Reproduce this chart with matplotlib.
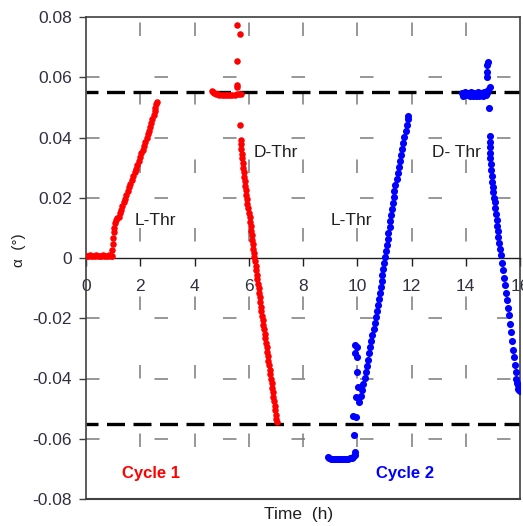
import matplotlib
matplotlib.use("Agg")
import matplotlib.pyplot as plt

plt.rcParams['font.family'] = ['Liberation Sans', 'DejaVu Sans']
plt.rcParams['lines.scale_dashes'] = False

# ---------------- data (time in h, alpha in degrees) ----------------
x_ticks = [0, 2, 4, 6, 8, 10, 12, 14, 16]
x_tick_labels = ['0', '2', '4', '6', '8', '10', '12', '14', '16']
y_ticks = [-0.08, -0.06, -0.04, -0.02, 0, 0.02, 0.04, 0.06, 0.08]
y_tick_labels = ['-0.08', '-0.06', '-0.04', '-0.02', '0', '0.02', '0.04', '0.06', '0.08']
grid_x = [2, 4, 6, 8, 10, 12, 14]
grid_y = [-0.06, -0.04, -0.02, 0.02, 0.04, 0.06]
thresholds = [0.055, -0.055]

# Cycle 1 (red)
red_flat = [(0.02, 0.0008), (0.08, 0.0005), (0.14, 0.0009), (0.20, 0.0006), (0.26, 0.0008),
            (0.32, 0.0005), (0.38, 0.0009), (0.44, 0.0006), (0.50, 0.0008), (0.56, 0.0005),
            (0.62, 0.0009), (0.68, 0.0006), (0.74, 0.0008), (0.80, 0.0005), (0.86, 0.0009),
            (0.92, 0.0006), (0.95, 0.0008)]
red_rise = [(0.97, 0.0025), (0.99, 0.0045), (1.01, 0.0065), (1.03, 0.0085), (1.05, 0.0100),
            (1.08, 0.0115), (1.11, 0.0127), (1.15, 0.0133), (1.20, 0.0135), (1.25, 0.0148),
            (1.29, 0.0160), (1.34, 0.0172), (1.39, 0.0185), (1.44, 0.0197), (1.49, 0.0210),
            (1.54, 0.0222), (1.59, 0.0235), (1.64, 0.0247), (1.69, 0.0260), (1.74, 0.0272),
            (1.79, 0.0285), (1.84, 0.0297), (1.89, 0.0310), (1.94, 0.0322), (1.99, 0.0335),
            (2.04, 0.0347), (2.09, 0.0360), (2.14, 0.0372), (2.19, 0.0385), (2.24, 0.0397),
            (2.29, 0.0410), (2.33, 0.0422), (2.37, 0.0436), (2.41, 0.0449), (2.45, 0.0462),
            (2.49, 0.0474), (2.53, 0.0487), (2.56, 0.0499), (2.59, 0.0510), (2.62, 0.0519)]
red_plateau = [(4.65, 0.0556), (4.68, 0.0552), (4.72, 0.0548), (4.78, 0.0545), (4.85, 0.0543),
               (4.92, 0.0542), (5.00, 0.0542), (5.08, 0.0542), (5.16, 0.0542), (5.24, 0.0542),
               (5.32, 0.0542), (5.40, 0.0542), (5.48, 0.0542), (5.56, 0.0543), (5.64, 0.0543),
               (5.72, 0.0545)]
red_spike = [(5.58, 0.0774), (5.68, 0.0743), (5.58, 0.0654), (5.55, 0.0574), (5.56, 0.0566)]
red_fall = [(5.68, 0.0442), (5.70, 0.0392), (5.71, 0.0378), (5.72, 0.0362), (5.74, 0.0346),
            (5.75, 0.0331), (5.77, 0.0316), (5.79, 0.0300), (5.81, 0.0285), (5.83, 0.0270),
            (5.85, 0.0255), (5.87, 0.0240), (5.89, 0.0225), (5.91, 0.0210), (5.93, 0.0195),
            (5.95, 0.0180), (5.98, 0.0165), (6.00, 0.0150), (6.03, 0.0135), (6.05, 0.0120),
            (6.07, 0.0105), (6.09, 0.0090), (6.11, 0.0075), (6.13, 0.0060), (6.15, 0.0045),
            (6.17, 0.0030), (6.18, 0.0017), (6.20, 0.0004), (6.22, -0.0011), (6.25, -0.0026),
            (6.27, -0.0041), (6.29, -0.0056), (6.31, -0.0071), (6.34, -0.0086), (6.36, -0.0101),
            (6.38, -0.0116), (6.41, -0.0131), (6.43, -0.0146), (6.45, -0.0161), (6.47, -0.0176),
            (6.50, -0.0191), (6.52, -0.0206), (6.54, -0.0221), (6.56, -0.0236), (6.59, -0.0251),
            (6.61, -0.0266), (6.63, -0.0281), (6.66, -0.0296), (6.68, -0.0311), (6.70, -0.0326),
            (6.72, -0.0341), (6.75, -0.0356), (6.77, -0.0371), (6.79, -0.0386), (6.82, -0.0401),
            (6.84, -0.0416), (6.86, -0.0431), (6.88, -0.0446), (6.91, -0.0461), (6.93, -0.0476),
            (6.95, -0.0491), (6.97, -0.0506), (7.00, -0.0521), (7.02, -0.0536), (7.03, -0.0543)]

# Cycle 2 (blue)
blue_plateau = [(8.92, -0.0662), (8.97, -0.0665), (9.03, -0.0667), (9.10, -0.0667), (9.17, -0.0667),
                (9.24, -0.0668), (9.31, -0.0668), (9.38, -0.0667), (9.45, -0.0667), (9.52, -0.0667),
                (9.59, -0.0666), (9.66, -0.0666), (9.73, -0.0665), (9.80, -0.0664), (9.86, -0.0662),
                (9.90, -0.0655), (9.92, -0.0645)]
blue_scatter = [(9.89, -0.0588), (9.85, -0.0526), (9.95, -0.0527), (9.95, -0.0460), (10.04, -0.0427),
                (10.00, -0.0380), (9.92, -0.0289), (10.00, -0.0294), (9.92, -0.0316), (9.98, -0.0328)]
blue_rise = [(10.07, -0.0477), (10.12, -0.0457), (10.17, -0.0437), (10.22, -0.0417), (10.27, -0.0397),
             (10.31, -0.0377), (10.35, -0.0357), (10.39, -0.0337), (10.43, -0.0317), (10.47, -0.0297),
             (10.51, -0.0277), (10.55, -0.0257), (10.60, -0.0237), (10.64, -0.0217), (10.69, -0.0197),
             (10.73, -0.0177), (10.78, -0.0157), (10.81, -0.0137), (10.84, -0.0117), (10.87, -0.0097),
             (10.90, -0.0077), (10.93, -0.0057), (10.96, -0.0037), (10.99, -0.0017), (11.02, 0.0003),
             (11.05, 0.0023), (11.09, 0.0043), (11.12, 0.0063), (11.15, 0.0083), (11.19, 0.0103),
             (11.22, 0.0123), (11.25, 0.0143), (11.28, 0.0163), (11.31, 0.0183), (11.34, 0.0203),
             (11.37, 0.0223), (11.41, 0.0243), (11.45, 0.0263), (11.49, 0.0283), (11.53, 0.0303),
             (11.58, 0.0323), (11.62, 0.0343), (11.66, 0.0363), (11.70, 0.0383), (11.74, 0.0403),
             (11.78, 0.0423), (11.82, 0.0443), (11.86, 0.0463), (11.88, 0.0472)]
blue_top = [(13.85, 0.0548), (13.90, 0.0538), (13.96, 0.0550), (14.02, 0.0540), (14.08, 0.0549),
            (14.14, 0.0538), (14.20, 0.0550), (14.26, 0.0539), (14.32, 0.0548), (14.38, 0.0538),
            (14.44, 0.0550), (14.50, 0.0539), (14.56, 0.0549), (14.62, 0.0538), (14.68, 0.0550),
            (14.74, 0.0540), (14.80, 0.0547)]
blue_spike = [(14.83, 0.0652), (14.77, 0.0641), (14.78, 0.0619), (14.78, 0.0600), (14.89, 0.0569),
              (14.83, 0.0558)]
blue_fall = [(14.87, 0.0497), (14.88, 0.0405), (14.89, 0.0385), (14.89, 0.0368), (14.90, 0.0350),
             (14.91, 0.0332), (14.92, 0.0312), (14.94, 0.0292), (14.96, 0.0272), (14.98, 0.0252),
             (15.00, 0.0235), (15.02, 0.0218), (15.04, 0.0200), (15.07, 0.0185), (15.09, 0.0165),
             (15.11, 0.0145), (15.14, 0.0125), (15.16, 0.0105), (15.18, 0.0088), (15.20, 0.0070),
             (15.23, 0.0050), (15.26, 0.0030), (15.29, 0.0010), (15.32, -0.0015), (15.36, -0.0040),
             (15.40, -0.0065), (15.44, -0.0090), (15.48, -0.0115), (15.52, -0.0140), (15.56, -0.0165),
             (15.60, -0.0190), (15.64, -0.0220), (15.68, -0.0245), (15.72, -0.0275), (15.76, -0.0305),
             (15.79, -0.0330), (15.82, -0.0355), (15.85, -0.0380), (15.87, -0.0400), (15.89, -0.0415),
             (15.91, -0.0420), (15.94, -0.0435), (15.97, -0.0438), (15.99, -0.0440)]

annotations = [(2.55, 0.0123, 'L-Thr'), (7.0, 0.0349, 'D-Thr'),
               (9.8, 0.0126, 'L-Thr'), (13.65, 0.0350, 'D- Thr')]
cycle_labels = [(2.4, -0.0714, 'Cycle 1', '#ff0000'), (11.77, -0.0714, 'Cycle 2', '#0000ff')]

# ---------------- figure ----------------
W, H = 523, 526
fig = plt.figure(figsize=(W / 100, H / 100), dpi=100)
L, R, T, B = 86, 520, 17, 499
ax = fig.add_axes([L / W, 1 - B / H, (R - L) / W, (B - T) / H])
ax.set_xlim(0, 16)
ax.set_ylim(-0.08, 0.08)

spine_col = '#404040'
for s in ax.spines.values():
    s.set_color(spine_col)
    s.set_linewidth(1.2)
ax.spines['bottom'].set_position(('data', 0))
ax.spines['bottom'].set_color('#202020')
ax.spines['bottom'].set_linewidth(1.0)
# bottom frame line
ax.plot([0, 1], [0, 0], transform=ax.transAxes, color=spine_col, lw=1.5,
        clip_on=False, zorder=5)

# dashed grid (short dashes, long gaps)
px = 0.72  # points per pixel at 100 dpi
grid_col = '#7a7a7a'
for yv in grid_y:
    ax.axhline(yv, color=grid_col, lw=1.1, linestyle=(0, (13.5 * px, 55 * px)), zorder=1)
for xv in grid_x:
    ax.axvline(xv, color=grid_col, lw=1.1, linestyle=(16.5 * px, (13.5 * px, 55 * px)), zorder=1)

# threshold lines
for th in thresholds:
    ax.axhline(th, color='black', lw=2.4, linestyle=(6 * px, (18 * px, 8.5 * px)), zorder=2)

def unzip(seq):
    return [p[0] for p in seq], [p[1] for p in seq]

for seg in [red_flat, red_rise, red_plateau, red_spike, red_fall]:
    t, a = unzip(seg)
    ax.plot(t, a, 'o', color='#ff0000', ms=4.7, mew=0, zorder=3)
for seg in [blue_plateau, blue_scatter, blue_rise, blue_top, blue_spike, blue_fall]:
    t, a = unzip(seg)
    ax.plot(t, a, 'o', color='#0000ff', ms=5.1, mew=0, zorder=3)

ax.set_xticks(x_ticks)
ax.set_xticklabels(x_tick_labels)
ax.set_yticks(y_ticks)
ax.set_yticklabels(y_tick_labels)
ax.tick_params(axis='x', direction='out', length=6, width=1, pad=9, labelsize=12.5,
               colors='#202020', labelcolor='#303040')
ax.tick_params(axis='y', direction='out', length=5, width=1, pad=5, labelsize=12.5,
               colors=spine_col, labelcolor='#303040')

for x, y, s in annotations:
    ax.text(x, y, s, ha='center', va='center', fontsize=12.5, color='#202020')
for x, y, s, c in cycle_labels:
    ax.text(x, y, s, ha='center', va='center', fontsize=12, fontweight='bold', color=c)

fig.text(299 / W, 1 - 515 / H, 'Time  (h)', ha='center', va='center', fontsize=12.5,
         color='#202020')
fig.text(19 / W, 1 - 250 / H, 'α  (°)', ha='center', va='center', rotation=90,
         fontsize=11, color='#202020')

fig.savefig('out.png', dpi=100)
